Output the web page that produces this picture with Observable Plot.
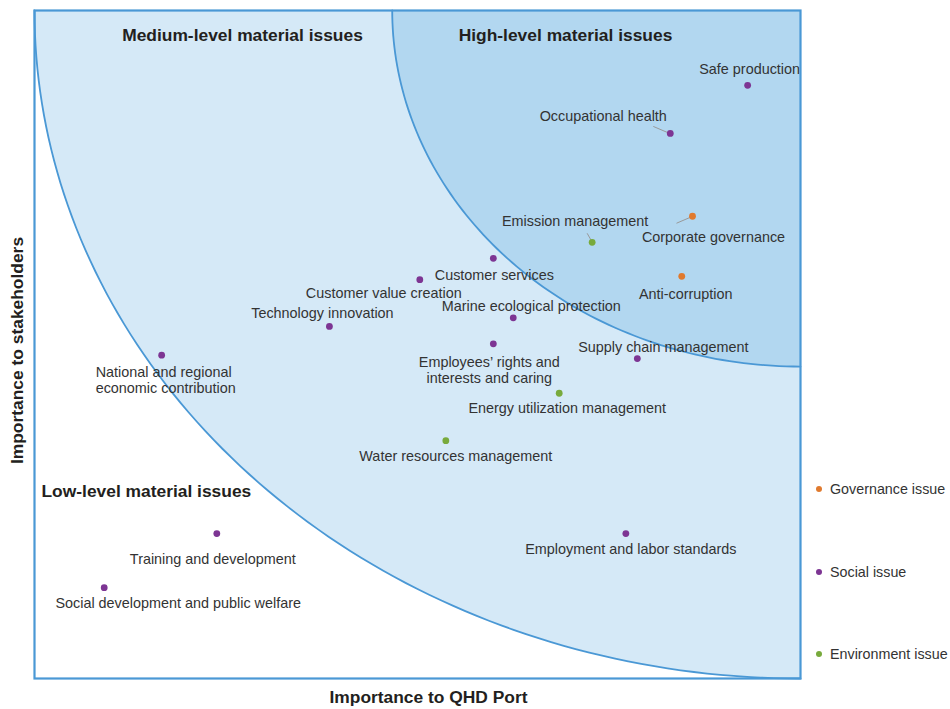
<!DOCTYPE html>
<html>
<head>
<meta charset="utf-8">
<script src="https://cdn.jsdelivr.net/npm/d3@7"></script>
<script src="https://cdn.jsdelivr.net/npm/@observablehq/plot@0.6"></script>
<style>
  body { margin: 0; background: #fff; }
  #wrap { position: relative; width: 950px; height: 709px; font-family: "Liberation Sans", Arial, sans-serif; }
  #legend { position: absolute; left: 816px; top: 0; font-size: 14.3px; color: #333; }
  #legend .item { position: absolute; white-space: nowrap; display: flex; align-items: center; }
  #legend .sw { width: 6px; height: 6px; border-radius: 50%; margin-right: 8px; }
</style>
</head>
<body>
<div id="wrap"><div id="legend"></div></div>
<script>
// Materiality matrix: issues scored by importance to the port (x) and to stakeholders (y)
const issues = [
  "Safe production",
  "Occupational health",
  "Corporate governance",
  "Emission management",
  "Anti-corruption",
  "Customer services",
  "Customer value creation",
  "Marine ecological protection",
  "Technology innovation",
  "Supply chain management",
  "National and regional\neconomic contribution",
  "Employees’ rights and\ninterests and caring",
  "Energy utilization management",
  "Water resources management",
  "Employment and labor standards",
  "Training and development",
  "Social development and public welfare"
];
const portScores =        [9.31, 8.30, 8.59, 7.28, 8.45, 5.99, 5.03, 6.25, 3.85, 7.87, 1.66, 5.99, 6.85, 5.37, 7.72, 2.38, 0.91];
const stakeholderScores = [8.88, 8.16, 6.92, 6.53, 6.02, 6.29, 5.97, 5.40, 5.27, 4.79, 4.84, 5.01, 4.27, 3.56, 2.17, 2.17, 1.36];
const issueTypes = [
  "Social issue", "Social issue", "Governance issue", "Environment issue", "Governance issue",
  "Social issue", "Social issue", "Social issue", "Social issue", "Social issue", "Social issue",
  "Social issue", "Environment issue", "Environment issue", "Social issue", "Social issue", "Social issue"
];

const typeNames = ["Governance issue", "Social issue", "Environment issue"];
const typeColors = ["#e07a2e", "#7d3593", "#78aa3c"];

// Materiality thresholds: radius of each band measured from the top-right corner
const bandNames = ["Medium-level material issues", "High-level material issues"];
const bandRadii = [10, 5.33];
const scoreMax = 10;

// Label placement (pixel offsets from each dot) and leader lines
const labelLayout = [
  {dx: 2, dy: -16, anchor: "middle"},
  {dx: -67, dy: -18, anchor: "middle", leader: [-17, -7, -3, -1]},
  {dx: 21, dy: 21, anchor: "middle", leader: [-16, 7, -2, 1]},
  {dx: -17, dy: -21, anchor: "middle", leader: [-5, -9, -1, -2]},
  {dx: 4, dy: 18, anchor: "middle"},
  {dx: 1, dy: 17, anchor: "middle"},
  {dx: -36, dy: 13, anchor: "middle"},
  {dx: 18, dy: -12, anchor: "middle"},
  {dx: -7, dy: -14, anchor: "middle"},
  {dx: 26, dy: -12, anchor: "middle"},
  {dx: -66, dy: 25, anchor: "start"},
  {dx: -4, dy: 26, anchor: "middle"},
  {dx: 8, dy: 15, anchor: "middle"},
  {dx: 10, dy: 15, anchor: "middle"},
  {dx: 5, dy: 15, anchor: "middle"},
  {dx: -4, dy: 25, anchor: "middle"},
  {dx: 74, dy: 15, anchor: "middle"}
];

const W = 950, H = 709;
const margin = {left: 34, right: 150, top: 10, bottom: 31};
const kx = (W - margin.left - margin.right) / scoreMax;
const ky = (H - margin.top - margin.bottom) / scoreMax;

const points = issues.map((name, i) => ({
  name, x: portScores[i], y: stakeholderScores[i], type: issueTypes[i], layout: labelLayout[i]
}));

// Quarter-circle band boundaries around the (max, max) corner
function arc(r) {
  return d3.range(0, 91).map(a => {
    const t = Math.PI + a * Math.PI / 180;
    return {x: scoreMax + r * Math.cos(t), y: scoreMax + r * Math.sin(t)};
  });
}
const bandFills = ["#d5e9f7", "#b2d7f0"];
const arcStroke = "#4a98d5";

const marks = [];
bandRadii.forEach((r, i) => {
  const pts = arc(r);
  marks.push(Plot.areaY(pts, {x: "x", y1: "y", y2: scoreMax, fill: bandFills[i]}));
  marks.push(Plot.line(pts, {x: "x", y: "y", stroke: arcStroke, strokeWidth: 1.8}));
});

// Leader lines
const leaders = points.filter(p => p.layout.leader).map(p => {
  const [a, b, c, d] = p.layout.leader;
  return {x1: p.x + a / kx, y1: p.y - b / ky, x2: p.x + c / kx, y2: p.y - d / ky};
});
marks.push(Plot.link(leaders, {x1: "x1", y1: "y1", x2: "x2", y2: "y2", stroke: "#999", strokeWidth: 1}));

marks.push(Plot.dot(points, {x: "x", y: "y", fill: "type", r: 3.4}));

points.forEach(p => {
  marks.push(Plot.text([p], {
    x: "x", y: "y", text: "name",
    dx: p.layout.dx, dy: p.layout.dy, textAnchor: p.layout.anchor,
    fill: "#333", fontSize: 14.4, lineHeight: 1.11
  }));
});

// Band titles
const titleStyle = {fontSize: 17.4, fontWeight: "bold", fill: "#231f20", lineAnchor: "middle"};
marks.push(Plot.text([bandNames[0]], {frameAnchor: "top-left", dx: 208, dy: 25, textAnchor: "middle", ...titleStyle}));
marks.push(Plot.text([bandNames[1]], {frameAnchor: "top-left", dx: 531, dy: 25, textAnchor: "middle", ...titleStyle}));
marks.push(Plot.text(["Low-level material issues"], {frameAnchor: "left", dx: 7, dy: 147, textAnchor: "start", ...titleStyle}));

// Axis titles
marks.push(Plot.text(["Importance to QHD Port"], {frameAnchor: "bottom", dx: 11, dy: 19, textAnchor: "middle", ...titleStyle}));
marks.push(Plot.text(["Importance to stakeholders"], {frameAnchor: "left", dx: -17, dy: 6, rotate: -90, textAnchor: "middle", ...titleStyle}));

marks.push(Plot.frame({stroke: arcStroke, strokeWidth: 2.2}));

const chart = Plot.plot({
  width: W,
  height: H,
  marginLeft: margin.left,
  marginRight: margin.right,
  marginTop: margin.top,
  marginBottom: margin.bottom,
  x: {domain: [0, scoreMax], axis: null},
  y: {domain: [0, scoreMax], axis: null},
  color: {domain: typeNames, range: typeColors},
  style: {fontFamily: "'Liberation Sans', Arial, sans-serif", fontSize: "14px", background: "white", overflow: "visible"},
  marks
});
document.getElementById("wrap").prepend(chart);

// Legend for issue types
const legend = document.getElementById("legend");
const legendTops = [489, 572, 654];
typeNames.forEach((name, i) => {
  const item = document.createElement("div");
  item.className = "item";
  item.style.top = (legendTops[i] - 8) + "px";
  item.innerHTML = `<span class="sw" style="background:${typeColors[i]}"></span><span>${name}</span>`;
  legend.appendChild(item);
});
</script>
</body>
</html>
